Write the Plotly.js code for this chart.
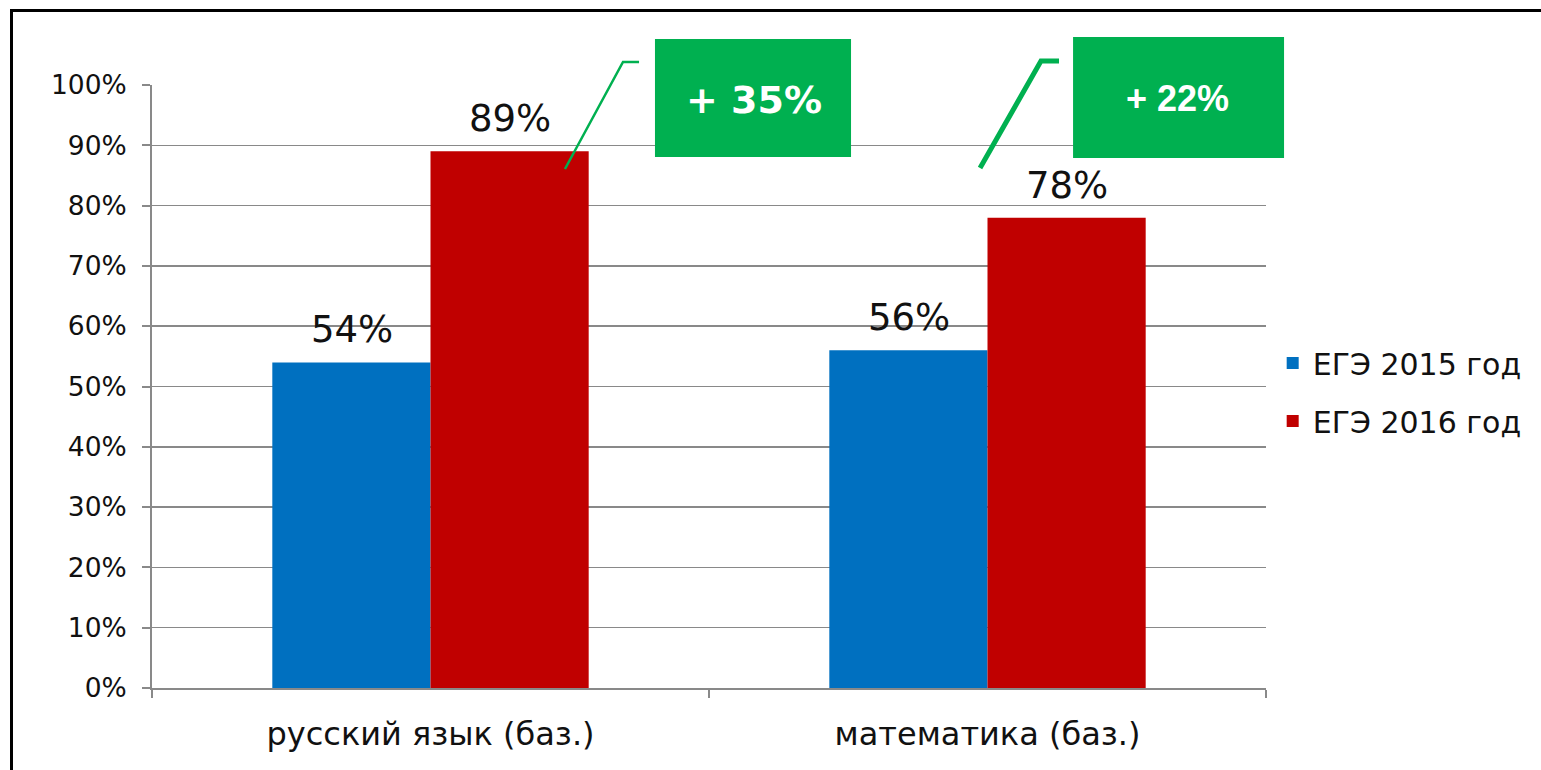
<!DOCTYPE html>
<html>
<head>
<meta charset="utf-8">
<script src="https://cdn.plot.ly/plotly-3.0.1.min.js"></script>
<style>
html,body{margin:0;padding:0;background:#fff;overflow:hidden;}
#chart{width:1541px;height:770px;position:relative;}
#frame{position:absolute;left:10px;top:9px;width:1600px;height:800px;border:3px solid #000;pointer-events:none;}
</style>
</head>
<body>
<div id="chart"></div>
<div id="frame"></div>
<script>
const categories = ['русский язык (баз.)', 'математика (баз.)'];
const seriesNames = ['ЕГЭ 2015 год', 'ЕГЭ 2016 год'];
const values2015 = [54, 56];
const values2016 = [89, 78];
const changeLabels = ['+ 35%', '+ 22%'];
const yTicks = [0, 10, 20, 30, 40, 50, 60, 70, 80, 90, 100];
const yTickLabels = ['0%', '10%', '20%', '30%', '40%', '50%', '60%', '70%', '80%', '90%', '100%'];

const FONT = 'DejaVu Sans, Verdana, sans-serif';
const axisGray = '#898989';

const traces = [
  {
    type: 'bar', name: seriesNames[0], x: categories, y: values2015,
    marker: {color: '#0070C0'}, legendgroup: 'a', hoverinfo: 'skip'
  },
  {
    type: 'bar', name: seriesNames[1], x: categories, y: values2016,
    marker: {color: '#C00000'}, legendgroup: 'b', hoverinfo: 'skip'
  }
];

// value labels above bars (offset by half a bar width to the left / right of category centre)
const valueAnnotations = [];
const barHalfOffset = 79;
[values2015, values2016].forEach((vals, si) => {
  vals.forEach((v, ci) => {
    valueAnnotations.push({
      x: categories[ci], y: v, xref: 'x', yref: 'y',
      text: v + '%', showarrow: false, xanchor: 'center', yanchor: 'bottom',
      xshift: si === 0 ? -barHalfOffset : barHalfOffset, yshift: 9,
      font: {family: FONT, size: 37, color: '#111'}
    });
  });
});

const layout = {
  width: 1541, height: 770,
  margin: {l: 152, r: 275, t: 85, b: 82},
  paper_bgcolor: '#fff', plot_bgcolor: '#fff',
  barmode: 'group', bargap: 0.432, bargroupgap: 0,
  showlegend: true,
  legend: {
    x: 1.006, xanchor: 'left', y: 0.491, yanchor: 'middle',
    font: {family: FONT, size: 30, color: '#111'},
    tracegroupgap: 16, traceorder: 'grouped', bgcolor: 'rgba(0,0,0,0)'
  },
  xaxis: {
    type: 'category', range: [-0.5, 1.5],
    showline: true, linecolor: axisGray, linewidth: 2,
    ticks: 'outside', tickson: 'boundaries', ticklen: 8, tickcolor: axisGray, tickwidth: 2,
    tickfont: {family: FONT, size: 32, color: '#111'},
    ticklabelstandoff: 17, showgrid: false, zeroline: false
  },
  yaxis: {
    range: [0, 100], tickmode: 'array', tickvals: yTicks, ticktext: yTickLabels,
    showline: true, linecolor: axisGray, linewidth: 2,
    ticks: 'outside', ticklen: 8, tickcolor: axisGray, tickwidth: 2,
    tickfont: {family: FONT, size: 26.5, color: '#111'},
    ticklabelstandoff: 10,
    showgrid: true, gridcolor: axisGray, gridwidth: 1.5, zeroline: false
  },
  shapes: [
    {type: 'path', xref: 'paper', yref: 'paper',
     path: 'M0.3707,0.8607 L0.4228,1.0381 L0.4372,1.0381',
     line: {color: '#00B050', width: 2.5}},
    {type: 'path', xref: 'paper', yref: 'paper',
     path: 'M0.7433,0.8624 L0.7980,1.0398 L0.8142,1.0398',
     line: {color: '#00B050', width: 5}},
    {type: 'rect', xref: 'paper', yref: 'paper', x0: 0.4515, x1: 0.6275, y0: 0.8806, y1: 1.0763,
     fillcolor: '#00B050', line: {width: 0}},
    {type: 'rect', xref: 'paper', yref: 'paper', x0: 0.8268, x1: 1.0162, y0: 0.8789, y1: 1.0796,
     fillcolor: '#00B050', line: {width: 0}}
  ],
  annotations: valueAnnotations.concat([
    {xref: 'paper', yref: 'paper', x: 0.5404, y: 0.9751, text: '<b>' + changeLabels[0] + '</b>',
     showarrow: false, xanchor: 'center', yanchor: 'middle',
     font: {family: FONT, size: 38, color: '#fff'}},
    {xref: 'paper', yref: 'paper', x: 0.9210, y: 0.9784, text: '<b>' + changeLabels[1] + '</b>',
     showarrow: false, xanchor: 'center', yanchor: 'middle',
     font: {family: 'Liberation Sans Narrow, Liberation Sans, sans-serif', size: 36, color: '#fff'}}
  ])
};

Plotly.newPlot('chart', traces, layout, {staticPlot: true, displayModeBar: false});
</script>
</body>
</html>
